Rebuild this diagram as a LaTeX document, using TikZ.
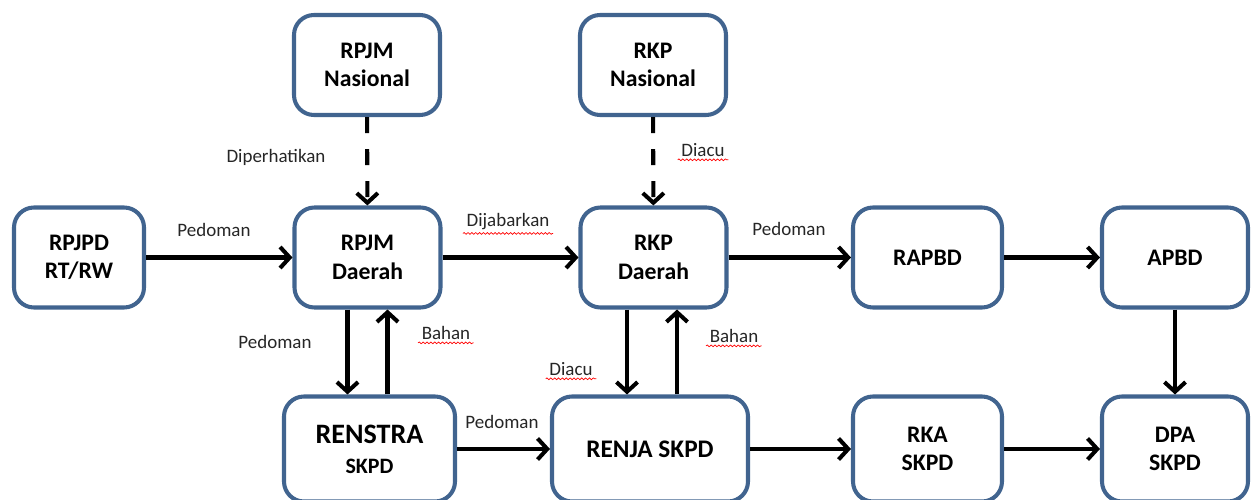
\documentclass[tikz,border=0pt]{standalone}
\usepackage{fontspec}
\setmainfont{Carlito}
\usetikzlibrary{arrows.meta,decorations.pathmorphing}

\begin{document}
\begin{tikzpicture}[
    box/.style={draw=boxblue, line width=2.3pt, rounded corners=0.4cm, fill=white,
        align=center, font=\fontsize{13.5}{16.2}\selectfont\bfseries,
        minimum width=2.92cm, minimum height=2.0cm},
    low/.style={box, minimum height=2.1cm},
    flow/.style={line width=2.3pt, -{Straight Barb[length=5.5pt,width=12pt]}},
    weak/.style={flow, dash pattern=on 0.32cm off 0.32cm},
    lbl/.style={font=\fontsize{10.8}{13}\selectfont, text=black!85},
    spell/.style={red, line width=0.4pt, decorate,
        decoration={snake, amplitude=0.5pt, segment length=2.2pt}}
  ]
\definecolor{boxblue}{HTML}{41648F}
\useasboundingbox (0,0) rectangle (25.16,9.98);

\node[box] (rpjmn) at (7.34, 8.68) {RPJM\\Nasional};
\node[box] (rkpn) at (13.06, 8.68) {RKP\\Nasional};

\node[box, minimum width=2.6cm] (rpjpd) at (1.58, 4.83) {RPJPD\\RT/RW};
\node[box] (rpjmd) at (7.35, 4.83) {RPJM\\Daerah};
\node[box] (rkpd) at (13.07, 4.83) {RKP\\Daerah};
\node[box, minimum width=2.98cm] (rapbd) at (18.55, 4.83) {RAPBD};
\node[box] (apbd) at (23.5, 4.83) {APBD};

\node[low, minimum width=3.42cm] (renstra) at (7.39, 1.0)
    {{\fontsize{16}{19}\selectfont RENSTRA}\\[1pt]{\fontsize{12.5}{15}\selectfont SKPD}};
\node[low, minimum width=3.92cm, font=\fontsize{14.4}{17}\selectfont\bfseries] (renja) at (13.0, 1.0) {RENJA SKPD};
\node[low, minimum width=2.98cm] (rka) at (18.55, 1.0) {RKA\\SKPD};
\node[low] (dpa) at (23.5, 1.0) {DPA\\SKPD};

\draw[weak] (rpjmn) -- (rpjmd);
\draw[weak] (rkpn) -- (rkpd);

\draw[flow] (rpjpd) -- (rpjmd);
\draw[flow] (rpjmd) -- (rkpd);
\draw[flow] (rkpd) -- (rapbd);
\draw[flow] (rapbd) -- (apbd);
\draw[flow] (apbd) -- (dpa);

\draw[flow] ([xshift=-0.4cm]rpjmd.south) -- ([xshift=-0.4cm]rpjmd.south |- renstra.north);
\draw[flow] ([xshift=0.4cm]rpjmd.south |- renstra.north) -- ([xshift=0.4cm]rpjmd.south);
\draw[flow] ([xshift=-0.53cm]rkpd.south) -- ([xshift=-0.53cm]rkpd.south |- renja.north);
\draw[flow] ([xshift=0.47cm]rkpd.south |- renja.north) -- ([xshift=0.47cm]rkpd.south);

\draw[flow] (renstra) -- (renja);
\draw[flow] (renja) -- (rka);
\draw[flow] (rka) -- (dpa);

\node[lbl] (l1) at (4.28, 5.38) {Pedoman};
\node[lbl] (l2) at (5.52, 6.84) {Diperhatikan};
\node[lbl] (l3) at (14.06, 6.98) {Diacu};
\node[lbl] (l4) at (10.16, 5.54) {Dijabarkan};
\node[lbl] (l5) at (15.78, 5.40) {Pedoman};
\node[lbl] (l6) at (5.5, 3.14) {Pedoman};
\node[lbl] (l7) at (8.92, 3.32) {Bahan};
\node[lbl] (l8) at (11.42, 2.60) {Diacu};
\node[lbl] (l9) at (14.68, 3.26) {Bahan};
\node[lbl] (l10) at (10.04, 1.54) {Pedoman};

% spelling marks
\foreach \n in {l3,l4,l7,l8,l9}
  \draw[spell] ([shift={(0.05,0.06)}]\n.south west) -- ([shift={(-0.05,0.06)}]\n.south east);
\end{tikzpicture}
\end{document}
